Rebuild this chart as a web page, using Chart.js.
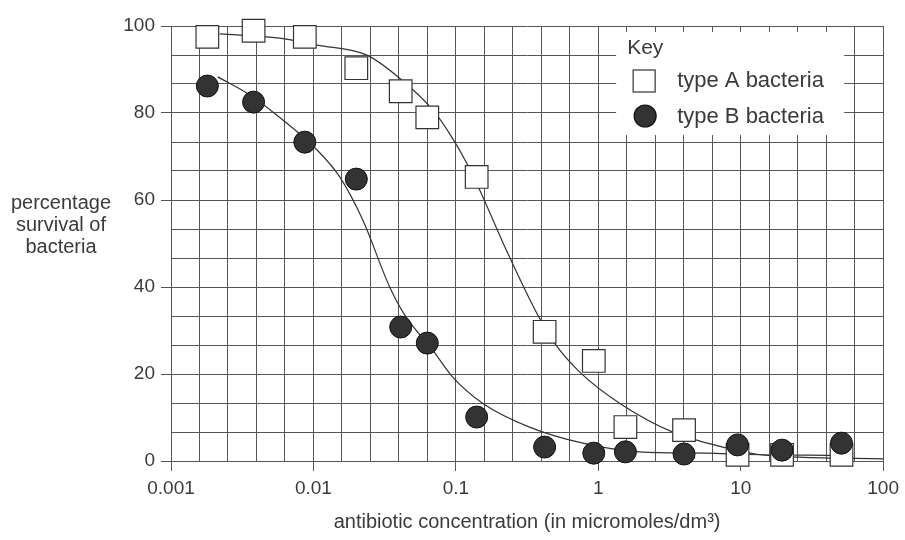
<!DOCTYPE html>
<html>
<head>
<meta charset="utf-8">
<title>Antibiotic survival</title>
<script src="https://cdn.jsdelivr.net/npm/chart.js@4/dist/chart.umd.min.js"></script>
<style>
  html, body { margin: 0; padding: 0; background: #fff; }
  canvas { display: block; }
</style>
</head>
<body>
<canvas id="chart" width="905" height="540"></canvas>
<script>
// concentrations used for both bacteria types (micromoles/dm3)
const concentrations = [0.0018, 0.0038, 0.0087, 0.02, 0.041, 0.063, 0.14, 0.42, 0.93, 1.55, 4.0, 9.5, 19.5, 51];
const survivalA = [97.5, 98.9, 97.5, 90.3, 85, 79, 65.3, 29.7, 23, 7.8, 7.1, 1.4, 1.4, 1.4];
const survivalB = [86.2, 82.5, 73.3, 64.8, 30.8, 27.1, 10.1, 3.2, 1.8, 2.1, 1.6, 3.7, 2.5, 4.1];

// fitted curves as drawn on the graph
const curveAConc = [0.0022, 0.0058, 0.0106, 0.0237, 0.0403, 0.0689, 0.0934, 0.119, 0.147, 0.231, 0.375, 0.493, 0.738, 1.41, 3.31, 7.93, 13.4, 25.7, 100];
const curveASurv = [98.2, 97.2, 95.6, 93.3, 88, 80.7, 74.5, 68.5, 62.3, 47.8, 33.6, 27.1, 20.5, 13.3, 6.7, 3.0, 1.5, 0.9, 0.5];
const curveBConc = [0.00213, 0.0036, 0.0061, 0.0106, 0.0153, 0.0222, 0.0343, 0.0437, 0.0688, 0.095, 0.154, 0.329, 0.78, 1.94, 5.7, 11.5, 45];
const curveBSurv = [88.3, 84.1, 78.4, 71.5, 65.3, 55.4, 40, 33.6, 25.5, 19.3, 13.3, 7.8, 4.1, 2.1, 1.8, 1.5, 1.3];

const xDecades = [0.001, 0.01, 0.1, 1, 10, 100];
const xTickLabels = ["0.001", "0.01", "0.1", "1", "10", "100"];
const xLinesPerDecade = 5;
const yTickLabels = [0, 20, 40, 60, 80, 100];
const yLinesPerLabel = 3;

const seriesNames = ["type A bacteria", "type B bacteria"];
const yTitle = ["percentage", "survival of", "bacteria"];
const xTitle = "antibiotic concentration (in micromoles/dm\u00b3)";

const textColor = "#3a3a3a";
const gridColor = "#555";
const font = "'Liberation Sans', Arial, sans-serif";

const toPoints = (xs, ys) => xs.map((x, i) => ({ x: x, y: ys[i] }));

const isDecade = (v) => xDecades.some((d) => Math.abs(v / d - 1) < 1e-6);
const isYLabel = (v) => yTickLabels.some((d) => Math.abs(v - d) < 1e-6);

// grid positions, evenly spaced in log space
const xGrid = [];
for (let i = 0; i < xDecades.length - 1; i++) {
  for (let k = 0; k < xLinesPerDecade; k++) {
    xGrid.push(xDecades[i] * Math.pow(10, k / xLinesPerDecade));
  }
}
xGrid.push(xDecades[xDecades.length - 1]);

const yGrid = [];
for (let i = 0; i < yTickLabels.length - 1; i++) {
  const step = (yTickLabels[i + 1] - yTickLabels[i]) / yLinesPerLabel;
  for (let k = 0; k < yLinesPerLabel; k++) yGrid.push(yTickLabels[i] + k * step);
}
yGrid.push(yTickLabels[yTickLabels.length - 1]);

// left title and the "Key" box
const annotations = {
  id: "annotations",
  afterDatasetsDraw(chart) {
    const ctx = chart.ctx;
    const area = chart.chartArea;
    ctx.save();

    // key box
    const bx = area.right - 267, by = area.top + 6;
    ctx.fillStyle = "#fff";
    ctx.fillRect(bx, by, 228, 103);
    ctx.fillStyle = textColor;
    ctx.font = "21px " + font;
    ctx.textBaseline = "middle";
    ctx.textAlign = "left";
    ctx.fillText("Key", bx + 11, by + 16);

    ctx.font = "22px " + font;
    // square marker
    ctx.strokeStyle = "#333";
    ctx.lineWidth = 1.2;
    ctx.fillStyle = "#fff";
    ctx.fillRect(bx + 17, by + 38, 22, 22);
    ctx.strokeRect(bx + 17, by + 38, 22, 22);
    ctx.fillStyle = textColor;
    ctx.fillText(seriesNames[0], bx + 61, by + 49);
    // circle marker
    ctx.beginPath();
    ctx.arc(bx + 29, by + 84, 11, 0, Math.PI * 2);
    ctx.fillStyle = "#333";
    ctx.fill();
    ctx.strokeStyle = "#111";
    ctx.stroke();
    ctx.fillStyle = textColor;
    ctx.fillText(seriesNames[1], bx + 61, by + 85);

    // y title, horizontal lines
    ctx.font = "20px " + font;
    ctx.textAlign = "center";
    yTitle.forEach((line, i) => {
      ctx.fillText(line, 61, 203 + i * 22);
    });
    ctx.restore();
  },
};

// first dataset ends up on top
new Chart(document.getElementById("chart"), {
  type: "scatter",
  data: {
    datasets: [
      {
        label: seriesNames[1],
        data: toPoints(concentrations, survivalB),
        pointStyle: "circle",
        pointRadius: 11,
        backgroundColor: "#333",
        borderColor: "#111",
        borderWidth: 1,
        clip: false,
      },
      {
        label: seriesNames[0],
        data: toPoints(concentrations, survivalA),
        pointStyle: "rect",
        pointRadius: 16,
        backgroundColor: "#fff",
        borderColor: "#333",
        borderWidth: 1.2,
        clip: false,
      },
      {
        label: seriesNames[0] + " curve",
        data: toPoints(curveAConc, curveASurv),
        showLine: true,
        pointRadius: 0,
        borderColor: "#333",
        borderWidth: 1.2,
        cubicInterpolationMode: "monotone",
      },
      {
        label: seriesNames[1] + " curve",
        data: toPoints(curveBConc, curveBSurv),
        showLine: true,
        pointRadius: 0,
        borderColor: "#333",
        borderWidth: 1.2,
        cubicInterpolationMode: "monotone",
      },
    ],
  },
  options: {
    responsive: false,
    animation: false,
    devicePixelRatio: 1,
    layout: { padding: { top: 26, right: 21, left: 0, bottom: 0 } },
    plugins: {
      legend: { display: false },
      tooltip: { enabled: false },
    },
    scales: {
      x: {
        type: "logarithmic",
        min: xDecades[0],
        max: xDecades[xDecades.length - 1],
        afterBuildTicks: (scale) => {
          scale.ticks = xGrid.map((v) => ({ value: v }));
        },
        afterFit: (scale) => {
          scale.height = 79;
        },
        grid: {
          color: gridColor,
          lineWidth: 1,
          tickLength: 10,
          tickColor: (c) => (c.tick && isDecade(c.tick.value) ? gridColor : "rgba(0,0,0,0)"),
        },
        border: { color: gridColor },
        ticks: {
          autoSkip: false,
          maxRotation: 0,
          padding: 6,
          color: textColor,
          font: { family: font, size: 19 },
          callback: (v) => {
            const i = xDecades.findIndex((d) => Math.abs(v / d - 1) < 1e-6);
            return i >= 0 ? xTickLabels[i] : "";
          },
        },
        title: {
          display: true,
          text: xTitle,
          color: textColor,
          font: { family: font, size: 20 },
          padding: { top: 4, bottom: 6 },
        },
      },
      y: {
        min: 0,
        max: 100,
        afterBuildTicks: (scale) => {
          scale.ticks = yGrid.map((v) => ({ value: v }));
        },
        afterFit: (scale) => {
          scale.width = 171;
        },
        grid: {
          color: gridColor,
          lineWidth: 1,
          tickLength: 10,
          tickColor: (c) => (c.tick && isYLabel(c.tick.value) ? gridColor : "rgba(0,0,0,0)"),
        },
        border: { color: gridColor },
        ticks: {
          autoSkip: false,
          padding: 6,
          color: textColor,
          font: { family: font, size: 19 },
          callback: (v) => (isYLabel(v) ? String(Math.round(v)) : ""),
        },
      },
    },
  },
  plugins: [annotations],
});
</script>
</body>
</html>
